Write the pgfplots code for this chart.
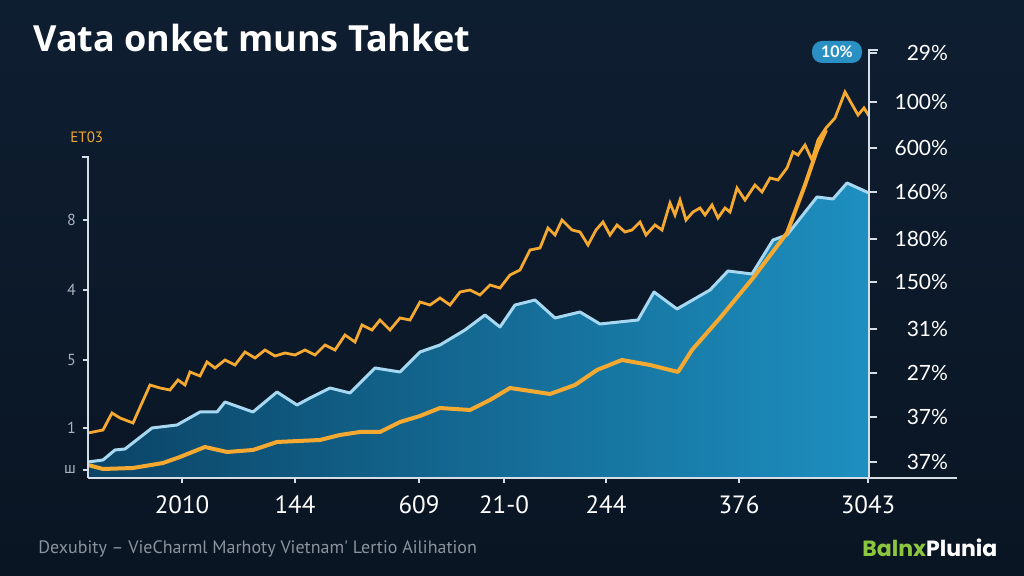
\documentclass[border=0pt]{standalone}
\usepackage{pgfplots}
\pgfplotsset{compat=1.18}
\usepackage{fontspec}
\setmainfont{Open Sans}
\newfontfamily\ptsans{PT Sans}
\newfontfamily\lato{Lato}
\newfontfamily\popp{Poppins}
\definecolor{bgtop}{HTML}{0E1E31}
\definecolor{bgbot}{HTML}{0A1523}
\definecolor{orangeL}{HTML}{F5A930}
\definecolor{blueline}{HTML}{A6D8F2}
\definecolor{areaL}{HTML}{0B4466}
\definecolor{areaR}{HTML}{1D8FC0}
\definecolor{tickc}{HTML}{D5DDE6}
\definecolor{footc}{HTML}{8A939E}
\definecolor{ltick}{HTML}{A9B2BD}
\definecolor{logog}{HTML}{8CC63F}
\definecolor{badge}{HTML}{2A8FC2}

\pgfplotstableread{
x y
88 143
103 146
112 163
120 158
133 153
150 191
160 188
170 186
178 196
185 191
190 204
200 200
207 214
215 208
225 216
235 211
245 224
255 218
265 226
275 220
285 223
295 221
305 226
315 221
325 231
335 226
345 241
355 234
362 251
372 246
380 256
390 246
400 258
410 256
420 274
430 271
440 278
450 271
460 284
470 286
480 281
490 291
500 288
510 301
520 306
530 326
540 328
548 348
555 341
562 356
572 346
580 344
588 331
596 346
603 354
610 341
617 351
625 344
632 346
640 354
646 341
655 351
662 346
670 373
675 361
680 376
686 356
693 364
700 368
705 361
712 371
718 358
725 368
730 364
737 388
745 376
755 391
762 384
770 398
778 396
787 408
793 424
798 421
805 431
812 416
818 436
826 448
835 458
845 484
858 461
864 468
869 460
}\upperdata

\pgfplotstableread{
x y
88 111
103 107
133 108
163 113
180 119
205 129
227 124
253 126
277 134
320 136
340 141
360 144
380 144
400 154
420 160
440 168
470 166
490 176
510 188
550 182
575 191
597 206
622 216
650 211
678 204
692 226
720 258
753 298
787 343
793 359
805 391
817 426
826 446
}\lowerdata

\pgfplotstableread{
x y
88 114
103 116
115 126
125 127
152 148
177 151
200 164
217 164
225 174
253 164
277 184
297 171
310 178
330 188
350 183
375 208
400 204
420 224
440 231
465 246
485 261
500 249
515 271
535 276
555 258
580 264
600 252
638 256
654 284
677 267
710 286
728 305
752 302
773 336
787 341
817 379
833 377
847 393
869 383
}\bluedata

\pgfplotstableread{
x y
88 98
88 114
103 116
115 126
125 127
152 148
177 151
200 164
217 164
225 174
253 164
277 184
297 171
310 178
330 188
350 183
375 208
400 204
420 224
440 231
465 246
485 261
500 249
515 271
535 276
555 258
580 264
600 252
638 256
654 284
677 267
710 286
728 305
752 302
773 336
787 341
817 379
833 377
847 393
869 383
869 98
}\areadata

\begin{document}
\begin{tikzpicture}[x=0.5pt,y=0.5pt]
\shade[top color=bgtop,bottom color=bgbot] (0,0) rectangle (1024,576);

\begin{axis}[
  at={(44pt,49pt)}, anchor=south west, scale only axis,
  width=390.5pt, height=214pt,
  xmin=88, xmax=869, ymin=98, ymax=526, clip=false,
  axis x line*=bottom, axis y line*=left, axis line style={draw=none},
  tick align=outside, major tick length=2.5pt,
  every tick/.style={draw=tickc, line width=0.9pt},
  xtick={182,295,419,504,606,739,868},
  xticklabels={2010,144,609,21-0,244,376,3043},
  xticklabel style={font=\ptsans\fontsize{12.5}{12.5}\selectfont, text=white, yshift=-3pt},
  ytick={106,148,216,286,356},
  yticklabels={ш,1,5,4,8},
  yticklabel style={font=\ptsans\fontsize{8}{8}\selectfont, text=ltick},
]
\addplot[draw=none, left color=areaL, right color=areaR] table {\areadata};
\addplot[blueline, line width=1.5pt, line join=round] table {\bluedata};
\addplot[orangeL, line width=2pt, line join=round] table {\lowerdata};
\addplot[orangeL, line width=1.4pt, line join=miter] table {\upperdata};
\draw[tickc, line width=1pt] (axis cs:88,98) -- (axis cs:957,98);
\draw[tickc, line width=1pt] (axis cs:82,419) -- (axis cs:88,419) -- (axis cs:88,98);
\draw[tickc, line width=1pt] (axis cs:878,526) -- (axis cs:869,526) -- (axis cs:869,98);
\node[fill=badge, rounded corners=5pt, text=white, inner sep=0pt,
  minimum width=25pt, minimum height=11pt, font=\lato\bfseries\fontsize{8}{8}\selectfont]
  at (axis cs:837,524) {10\%};
\node[anchor=west, inner sep=0pt, text=orangeL, font=\ptsans\fontsize{7.5}{7.5}\selectfont]
  at (axis cs:70,439) {ET03};
\end{axis}

\begin{axis}[
  at={(44pt,49pt)}, anchor=south west, scale only axis,
  width=390.5pt, height=214pt,
  xmin=88, xmax=869, ymin=98, ymax=526,
  axis y line*=right, axis x line=none, axis line style={draw=none},
  tick align=outside, major tick length=4pt,
  every tick/.style={draw=tickc, line width=0.9pt},
  ytick={114,159,203,247,294,337,384,428,474,523},
  yticklabels={37\%,37\%,27\%,31\%,150\%,180\%,160\%,600\%,100\%,29\%},
  yticklabel style={anchor=east, xshift=39pt, font=\lato\fontsize{10.5}{10.5}\selectfont, text=white},
]
\end{axis}

\node[anchor=west, inner sep=0pt, text=white, font=\bfseries\fontsize{18}{18}\selectfont]
  at (33,538) {Vata onket muns Tahket};
\node[anchor=west, inner sep=0pt, text=footc, font=\ptsans\fontsize{9}{9}\selectfont]
  at (38,27) {Dexubity – VieCharml Marhoty Vietnam' Lertio Ailihation};
\node[anchor=west, inner sep=0pt, font=\popp\bfseries\fontsize{11}{11}\selectfont]
  at (862,28) {\textcolor{logog}{Balnx}\textcolor{white}{Plunia}};
\end{tikzpicture}
\end{document}
